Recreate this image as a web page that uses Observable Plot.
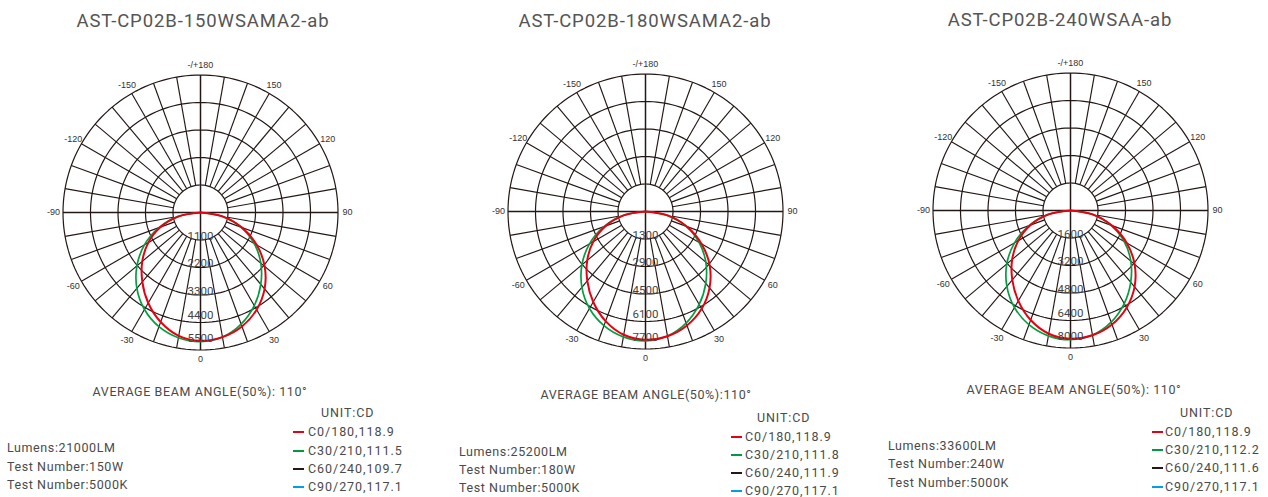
<!DOCTYPE html>
<html><head><meta charset="utf-8">
<script src="https://cdn.jsdelivr.net/npm/d3@7"></script>
<script src="https://cdn.jsdelivr.net/npm/@observablehq/plot@0.6"></script>
<style>
html,body{margin:0;padding:0;background:#fff;}
#root{position:relative;width:1268px;height:497px;overflow:hidden;font-family:Roboto,"DejaVu Sans",sans-serif;color:#4a4a4a;}
.t{position:absolute;white-space:nowrap;line-height:1;}
.plot{position:absolute;}
</style></head><body><div id="root"></div>
<script>
// ---- data ----
const gammas = [-90,-80,-70,-60,-50,-40,-30,-20,-10,0,10,20,30,40,50,60,70,80,90];
const red150   = [0,880,1700,2410,3040,3620,4180,4660,5010,5130,5060,4850,4490,3990,3350,2600,1770,890,0];
const green150 = [0,900,1770,2590,3320,3960,4480,4860,5090,5170,5060,4750,4300,3750,3150,2480,1730,890,0];
const red180   = [0,1240,2370,3380,4260,5070,5850,6530,7010,7180,7090,6790,6290,5580,4690,3630,2480,1250,0];
const green180 = [0,1260,2480,3620,4650,5540,6270,6800,7130,7240,7080,6650,6010,5250,4410,3470,2420,1250,0];
const red240   = [0,1290,2470,3510,4430,5270,6070,6780,7280,7460,7370,7060,6530,5800,4870,3780,2570,1300,0];
const green240 = [0,1310,2570,3760,4840,5760,6520,7070,7410,7520,7360,6910,6250,5450,4580,3610,2510,1300,0];
const rings150 = ["1100","2200","3300","4400","5500"];
const rings180 = ["1300","2900","4500","6100","7700"];
const rings240 = ["1600","3200","4800","6400","8000"];
const titles = ["AST-CP02B-150WSAMA2-ab","AST-CP02B-180WSAMA2-ab","AST-CP02B-240WSAA-ab"];
const beamTexts = ["AVERAGE BEAM ANGLE(50%): 110°","AVERAGE BEAM ANGLE(50%):110°","AVERAGE BEAM ANGLE(50%): 110°"];
const lumens = ["Lumens:21000LM","Lumens:25200LM","Lumens:33600LM"];
const watts = ["Test Number:150W","Test Number:180W","Test Number:240W"];
const ccts = ["Test Number:5000K","Test Number:5000K","Test Number:5000K"];
const unitLabel = "UNIT:CD";
const planeNames = ["C0/180","C30/210","C60/240","C90/270"];
const planeValues150 = ["118.9","111.5","109.7","117.1"];
const planeValues180 = ["118.9","111.8","111.9","117.1"];
const planeValues240 = ["118.9","112.2","111.6","117.1"];
const planeColors = ["#e60012","#009944","#231815","#00a0e9"];
const angleTicks = [0,30,60,90,120,150,180,-150,-120,-90,-60,-30];
const angleTickLabels = ["0","30","60","90","120","150","-/+180","-150","-120","-90","-60","-30"];
const spokeStep = 10;

// ---- layout ----
const panels = [
  {red: red150, green: green150, rings: rings150, vals: planeValues150, cx: 200, cy: 212,
   title: [203, 21], beam: [200, 392], unit: [321, 413], legX: 293, legTextX: 308, legY: [432, 451, 469, 487], infoX: 7, infoY: [448, 467, 485]},
  {red: red180, green: green180, rings: rings180, vals: planeValues180, cx: 645, cy: 211,
   title: [645, 21], beam: [646, 395], unit: [757, 418], legX: 731, legTextX: 745, legY: [437, 455, 473, 491], infoX: 459, infoY: [452, 470, 488]},
  {red: red240, green: green240, rings: rings240, vals: planeValues240, cx: 1070, cy: 210,
   title: [1060, 20], beam: [1074, 390], unit: [1180, 413], legX: 1152, legTextX: 1165, legY: [432, 450, 468, 487], infoX: 888, infoY: [446, 464, 483]}
];
const OUTER_PX = 137.5, HALF = 170, LABEL_PX = 147;
const GRID = "#231815";
const root = document.getElementById("root");

function pol(r, deg) { const a = deg * Math.PI / 180; return {x: r * Math.sin(a), y: -r * Math.cos(a)}; }

function addText(txt, x, y, opts) {
  const d = document.createElement("div");
  d.className = "t";
  d.textContent = txt;
  d.style.left = x + "px"; d.style.top = y + "px";
  d.style.fontSize = (opts.size || 12) + "px";
  d.style.letterSpacing = (opts.ls ?? 0.5) + "px";
  d.style.color = opts.color || "#4a4a4a";
  d.style.transform = opts.center ? "translate(-50%,-50%)" : "translate(0,-50%)";
  root.appendChild(d);
}

panels.forEach((p, pi) => {
  const max = +p.rings[p.rings.length - 1];
  const n = p.rings.length;
  const S = max * HALF / OUTER_PX;
  const ringR = p.rings.map((_, i) => (i + 1) / n * max);
  const ringPts = [];
  ringR.forEach((r, i) => { for (let a = 0; a <= 360; a += 2) ringPts.push({...pol(r, a), ring: i}); });
  const spokes = [];
  for (let a = -170; a <= 180; a += spokeStep) {
    const full = a % 90 === 0;
    const p1 = pol(full ? 0 : ringR[0], a), p2 = pol(max, a);
    spokes.push({x1: p1.x, y1: p1.y, x2: p2.x, y2: p2.y, full});
  }
  const curve = (vals) => vals.map((v, i) => pol(v, gammas[i]));
  const angLab = angleTicks.map((a, i) => ({...pol(max * LABEL_PX / OUTER_PX, a), t: angleTickLabels[i]}));
  const ringLab = p.rings.map((t, i) => ({x: 0, y: -ringR[i], t, i}));

  const chart = Plot.plot({
    width: 2 * HALF, height: 2 * HALF,
    margin: 0,
    x: {domain: [-S, S], axis: null},
    y: {domain: [-S, S], axis: null},
    style: {background: "transparent", overflow: "visible"},
    marks: [
      Plot.line(ringPts, {x: "x", y: "y", z: "ring", stroke: GRID, strokeWidth: 1.2}),
      Plot.link(spokes, {x1: "x1", y1: "y1", x2: "x2", y2: "y2", stroke: GRID, strokeWidth: d => d.full ? 1.5 : 1.15}),
      Plot.line(curve(p.green), {x: "x", y: "y", stroke: "#00a040", strokeWidth: 1.7, curve: "catmull-rom"}),
      Plot.line(curve(p.red), {x: "x", y: "y", stroke: "#e60012", strokeWidth: 2, curve: "catmull-rom"}),
      Plot.text(ringLab.filter(d => d.i < 3), {x: "x", y: "y", text: "t", dy: -4, fill: "#444", fontSize: 11.5, fontFamily: "Roboto"}),
      Plot.text(ringLab.filter(d => d.i === 3), {x: "x", y: "y", text: "t", dy: -7, fill: "#444", fontSize: 11.5, fontFamily: "Roboto"}),
      Plot.text(ringLab.filter(d => d.i === 4), {x: "x", y: "y", text: "t", dy: -12, fill: "#444", fontSize: 11.5, fontFamily: "Roboto"}),
      Plot.text(angLab, {x: "x", y: "y", text: "t", fill: "#333", fontSize: 9, fontFamily: "Liberation Sans"})
    ]
  });
  chart.classList.add("plot");
  chart.style.left = (p.cx - HALF) + "px";
  chart.style.top = (p.cy - HALF) + "px";
  root.appendChild(chart);

  addText(titles[pi], p.title[0], p.title[1], {size: 18.5, ls: 0.9, center: true, color: "#555"});
  addText(beamTexts[pi], p.beam[0], p.beam[1], {size: 12.5, ls: 0.6, center: true});
  addText(unitLabel, p.unit[0], p.unit[1], {size: 12.5, ls: 0.9});
  planeNames.forEach((nm, k) => {
    const sw = document.createElement("div");
    sw.style.cssText = `position:absolute;left:${p.legX}px;top:${p.legY[k] - 1}px;width:11px;height:2px;background:${planeColors[k]}`;
    root.appendChild(sw);
    addText(nm + "," + p.vals[k], p.legTextX, p.legY[k], {size: 12.5, ls: 0.95});
  });
  [lumens[pi], watts[pi], ccts[pi]].forEach((t, k) => addText(t, p.infoX, p.infoY[k], {size: 12.5, ls: 0.6}));
});
</script></body></html>
